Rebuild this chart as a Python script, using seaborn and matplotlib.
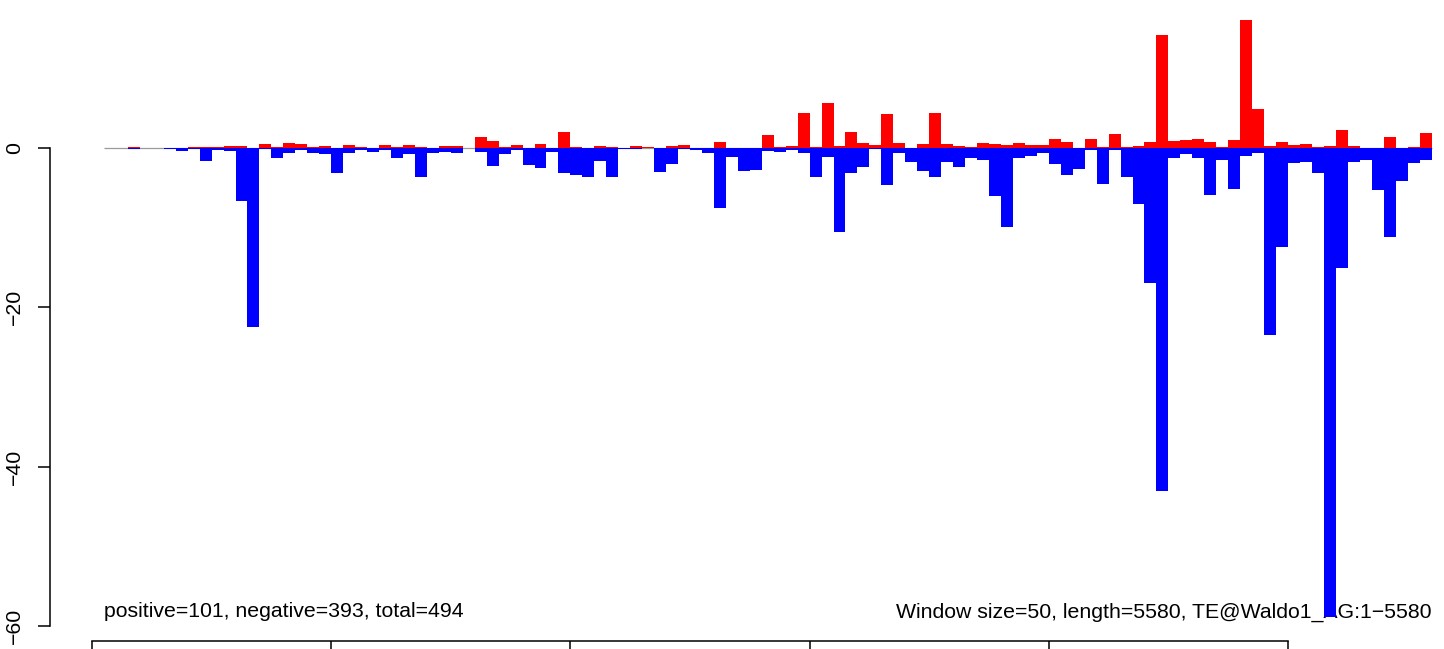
import matplotlib
matplotlib.use("Agg")
import matplotlib.pyplot as plt
import numpy as np
import pandas as pd
import seaborn as sns

# per-window signal, 50 bp windows along the TE consensus
window_size = 50
seq_length = 5580
te_name = "TE@Waldo1_AG"
n_positive = 101
n_negative = 393

positive = [
    0, 0, 0, 0.1, 0, 0, 0, 0, 0.1, 0.1,
    0.1, 0.25, 0.25, 0, 0.5, 0.1, 0.63, 0.5, 0.1, 0.25,
    0, 0.38, 0.1, 0, 0.38, 0.1, 0.38, 0.1, 0, 0.25,
    0.25, 0, 1.38, 0.88, 0.1, 0.38, 0, 0.45, 0, 2.0,
    0.13, 0, 0.25, 0.13, 0.05, 0.25, 0.13, 0.05, 0.25, 0.38,
    0, 0, 0.75, 0.05, 0, 0, 1.63, 0.13, 0.25, 4.4,
    0.13, 5.7, 0.25, 2.0, 0.63, 0.38, 4.3, 0.63, 0.05, 0.5,
    4.4, 0.5, 0.25, 0.13, 0.63, 0.5, 0.38, 0.63, 0.38, 0.38,
    1.13, 0.75, 0, 1.13, 0.13, 1.76, 0.13, 0.25, 0.75, 14.2,
    0.88, 1.0, 1.13, 0.75, 0.13, 1.0, 16.1, 4.9, 0.25, 0.75,
    0.38, 0.5, 0.13, 0.25, 2.26, 0.25, 0, 0.05, 1.38, 0.05,
    0.13, 1.9,
]
negative = [
    0, 0, 0, 0.15, 0, 0, 0.1, 0.4, 0.1, 1.6,
    0.25, 0.35, 6.6, 22.5, 0.1, 1.2, 0.6, 0.2, 0.6, 0.7,
    3.1, 0.6, 0.2, 0.45, 0.2, 1.2, 0.7, 3.6, 0.6, 0.45,
    0.6, 0.05, 0.45, 2.2, 0.7, 0.2, 2.15, 2.55, 0.45, 3.2,
    3.35, 3.6, 1.6, 3.7, 0.15, 0.15, 0.05, 3.0, 2.0, 0.1,
    0.2, 0.6, 7.5, 1.1, 2.85, 2.7, 0.33, 0.45, 0.2, 0.6,
    3.7, 1.1, 10.5, 3.1, 2.35, 0.1, 4.6, 0.6, 1.7, 2.85,
    3.7, 1.7, 2.35, 1.2, 1.45, 6.0, 9.9, 1.2, 0.96, 0.6,
    2.0, 3.35, 2.6, 0.25, 4.5, 0.25, 3.6, 7.0, 16.9, 43.1,
    1.2, 0.72, 1.22, 5.9, 1.5, 5.15, 1.0, 0.63, 23.5, 12.4,
    1.9, 1.75, 3.1, 58.9, 15.1, 1.75, 1.5, 5.3, 11.2, 4.1,
    1.9, 1.5,
]

y_ticks = [-60, -40, -20, 0]
x_ticks = [0, 1000, 2000, 3000, 4000, 5000]

# pixel layout of the original device
W, H = 1444, 649
X0_PX, PX_PER_BP = 92.0, 0.2392
Y0_PX, PX_PER_UNIT = 148.0, 7.967


def bp(px):
    return (px - X0_PX) / PX_PER_BP


def val(py):
    return (Y0_PX - py) / PX_PER_UNIT


plt.rcParams["font.family"] = ["Liberation Sans", "DejaVu Sans"]

df = pd.DataFrame({
    "center": np.arange(len(positive)) * window_size + window_size / 2,
    "positive": positive,
    "negative": -np.asarray(negative),
})
end_bp = len(positive) * window_size

fig = plt.figure(figsize=(W / 100, H / 100), dpi=100)
ax = fig.add_axes([0, 0, 1, 1])

ax.hlines(0, window_size, end_bp, color="#9a9a9a", lw=0.9, zorder=0.8)

sns.barplot(data=df, x="center", y="positive", native_scale=True, width=1,
            color="#ff0000", saturation=1, errorbar=None, linewidth=0,
            edgecolor="none", ax=ax)
sns.barplot(data=df, x="center", y="negative", native_scale=True, width=1,
            color="#0000ff", saturation=1, errorbar=None, linewidth=0,
            edgecolor="none", ax=ax)

text_y = df["negative"].min()
ax.text(window_size, text_y, f"positive={n_positive}, negative={n_negative}, "
        f"total={n_positive + n_negative}", fontsize=15.3, ha="left",
        va="baseline", zorder=0.5)
ax.text(end_bp, text_y, f"Window size={window_size}, length={seq_length}, "
        f"{te_name}:1\u2212{seq_length}", fontsize=15.3, ha="right",
        va="baseline", zorder=0.5)

ax.set_xlim(bp(0), bp(W))
ax.set_ylim(val(H), val(0))

for side in ["top", "right"]:
    ax.spines[side].set_visible(False)
ax.spines["left"].set_position(("data", bp(50)))
ax.spines["left"].set_bounds(y_ticks[0], y_ticks[-1])
ax.spines["bottom"].set_position(("data", val(641)))
ax.spines["bottom"].set_bounds(x_ticks[0], x_ticks[-1])
for s in ["left", "bottom"]:
    ax.spines[s].set_linewidth(1.1)

ax.set_yticks(y_ticks)
ax.set_yticklabels([f"{t:d}".replace("-", "\u2212") for t in y_ticks],
                   rotation=90, va="center", fontsize=15.3)
ax.tick_params(axis="y", length=8.6, width=1.1, pad=10)
ax.set_xticks(x_ticks)
ax.set_xticklabels([])
ax.tick_params(axis="x", length=12, width=1.1)
ax.set_xlabel("")
ax.set_ylabel("")

fig.savefig("out.png", dpi=100)
